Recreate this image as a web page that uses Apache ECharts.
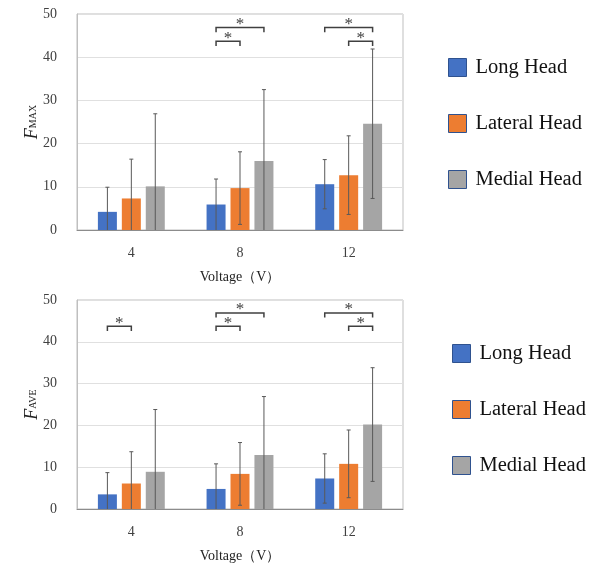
<!DOCTYPE html>
<html>
<head>
<meta charset="utf-8">
<script src="https://cdn.jsdelivr.net/npm/echarts@6/dist/echarts.min.js"></script>
<style>
  html, body { margin: 0; padding: 0; background: #fff; }
  #container { width: 592px; height: 564px; }
</style>
</head>
<body>
<div id="container"></div>
<script>
// data
var categories = ['4', '8', '12'];
var seriesNames = ['Long Head', 'Lateral Head', 'Medial Head'];
var colors = ['#4472C4', '#ED7D31', '#A5A5A5'];

// F_MAX means / sd per series (by voltage 4, 8, 12)
var maxLong = [4.2, 5.9, 10.6];
var maxLateral = [7.3, 9.7, 12.7];
var maxMedial = [10.1, 16.0, 24.6];
var maxLongSd = [5.7, 5.9, 5.7];
var maxLateralSd = [9.1, 8.4, 9.1];
var maxMedialSd = [16.8, 16.5, 17.3];

// F_AVE
var aveLong = [3.5, 4.8, 7.3];
var aveLateral = [6.1, 8.4, 10.8];
var aveMedial = [8.9, 12.9, 20.2];
var aveLongSd = [5.2, 6.0, 5.9];
var aveLateralSd = [7.6, 7.5, 8.1];
var aveMedialSd = [14.9, 14.0, 13.6];

// significance brackets: [category, from series, to series, level]
var maxBrackets = [[1, 0, 1, 0], [1, 0, 2, 1], [2, 0, 2, 1], [2, 1, 2, 0]];
var aveBrackets = [[0, 0, 1, 0], [1, 0, 1, 0], [1, 0, 2, 1], [2, 0, 2, 1], [2, 1, 2, 0]];
// bracket line value / end value per level
var bracketLine = [43.7, 46.9];
var bracketEnd = [42.6, 45.8];

var FONT = 'Liberation Serif, Times New Roman, serif';
var BAR_W = 19;
var BAR_GAP = 0.26;
var STEP = BAR_W * (1 + BAR_GAP);

var dom = document.getElementById('container');
var myChart = echarts.init(dom);

function errData(means, sds) {
  var out = [];
  for (var s = 0; s < means.length; s++) {
    for (var c = 0; c < means[s].length; c++) {
      out.push([c, means[s][c], sds[s][c], s]);
    }
  }
  return out;
}

function renderErr(params, api) {
  var cat = api.value(0), m = api.value(1), sd = api.value(2), s = api.value(3);
  var x = api.coord([cat, m])[0] + (s - 1) * STEP;
  var yTop = api.coord([cat, m + sd])[1];
  var low = m - sd;
  var yBot = api.coord([cat, Math.max(0, low)])[1];
  var st = { stroke: '#595959', lineWidth: 1 };
  var kids = [
    { type: 'line', shape: { x1: x, y1: yTop, x2: x, y2: yBot }, style: st },
    { type: 'line', shape: { x1: x - 2, y1: yTop, x2: x + 2, y2: yTop }, style: st }
  ];
  if (low > 0) {
    kids.push({ type: 'line', shape: { x1: x - 2, y1: yBot, x2: x + 2, y2: yBot }, style: st });
  }
  return { type: 'group', children: kids };
}

function renderBracket(params, api) {
  var cat = api.value(0), a = api.value(1), b = api.value(2), lv = api.value(3);
  var cx = api.coord([cat, 0])[0];
  var x1 = cx + (a - 1) * STEP, x2 = cx + (b - 1) * STEP;
  var y = api.coord([cat, bracketLine[lv]])[1];
  var ye = api.coord([cat, bracketEnd[lv]])[1];
  var st = { stroke: '#404040', lineWidth: 1.5, fill: null };
  return {
    type: 'group',
    children: [
      { type: 'polyline', shape: { points: [[x1, ye], [x1, y], [x2, y], [x2, ye]] }, style: st },
      { type: 'text', x: (x1 + x2) / 2, y: y - 3, style: {
        text: '*', fill: '#404040', font: '17px ' + FONT, align: 'center', verticalAlign: 'middle' } }
    ]
  };
}

function yAxisFor(idx, sub) {
  return {
    type: 'value', gridIndex: idx, min: 0, max: 50, interval: 10,
    name: '{f|F}{s|' + sub + '}',
    nameLocation: 'middle', nameGap: 33, nameMoveOverlap: false,
    nameTextStyle: {
      rich: {
        f: { fontFamily: FONT, fontStyle: 'italic', fontSize: 18, color: '#222', padding: [0, 0, 3, 0] },
        s: { fontFamily: FONT, fontSize: 10, color: '#222' }
      }
    },
    axisLine: { show: true, lineStyle: { color: '#bfbfbf' } },
    axisTick: { show: false },
    axisLabel: { fontFamily: FONT, fontSize: 14, color: '#404040', margin: 20 },
    splitLine: { lineStyle: { color: '#e0e0e0' } }
  };
}

function xAxisFor(idx) {
  return {
    type: 'category', gridIndex: idx, data: categories,
    name: 'Voltage（V）', nameLocation: 'middle', nameGap: 40,
    nameTextStyle: { fontFamily: FONT, fontSize: 14, color: '#222' },
    axisLine: { lineStyle: { color: '#8c8c8c' } },
    axisTick: { show: false },
    axisLabel: { fontFamily: FONT, fontSize: 14, color: '#404040', margin: 16 }
  };
}

function barSeries(idx, means) {
  return means.map(function (d, i) {
    return {
      name: seriesNames[i], type: 'bar', xAxisIndex: idx, yAxisIndex: idx,
      data: d, barWidth: BAR_W, barGap: (BAR_GAP * 100) + '%',
      itemStyle: { color: colors[i] }, silent: true
    };
  });
}

function legendFor(left, top) {
  return {
    orient: 'vertical', left: left, top: top,
    data: seriesNames, icon: 'rect',
    itemWidth: 18, itemHeight: 18, itemGap: 35,
    itemStyle: { borderColor: '#2F528F', borderWidth: 1 },
    textStyle: { fontFamily: FONT, fontSize: 20.5, color: '#111', lineHeight: 20, padding: [0, 0, 0, 4] },
    selectedMode: false
  };
}

var maxMeans = [maxLong, maxLateral, maxMedial];
var aveMeans = [aveLong, aveLateral, aveMedial];

option = {
  backgroundColor: '#fff',
  animation: false,
  legend: [legendFor(443, 52), legendFor(447, 338)],
  grid: [
    { left: 77, top: 14, width: 326, height: 216, show: true, borderColor: '#bfbfbf', borderWidth: 1 },
    { left: 77, top: 300, width: 326, height: 216, show: true, borderColor: '#bfbfbf', borderWidth: 1 }
  ],
  xAxis: [xAxisFor(0), xAxisFor(1)],
  yAxis: [yAxisFor(0, 'MAX'), yAxisFor(1, 'AVE')],
  series: barSeries(0, maxMeans).concat(barSeries(1, aveMeans)).concat([
    {
      type: 'custom', xAxisIndex: 0, yAxisIndex: 0, renderItem: renderErr,
      data: errData(maxMeans, [maxLongSd, maxLateralSd, maxMedialSd]),
      encode: { x: 0, y: 1 }, z: 5, silent: true
    },
    {
      type: 'custom', xAxisIndex: 1, yAxisIndex: 1, renderItem: renderErr,
      data: errData(aveMeans, [aveLongSd, aveLateralSd, aveMedialSd]),
      encode: { x: 0, y: 1 }, z: 5, silent: true
    },
    {
      type: 'custom', xAxisIndex: 0, yAxisIndex: 0, renderItem: renderBracket,
      data: maxBrackets, encode: { x: 0 }, z: 5, silent: true
    },
    {
      type: 'custom', xAxisIndex: 1, yAxisIndex: 1, renderItem: renderBracket,
      data: aveBrackets, encode: { x: 0 }, z: 5, silent: true
    }
  ])
};

if (option && typeof option === 'object') {
  myChart.setOption(option, true);
}
</script>
</body>
</html>
